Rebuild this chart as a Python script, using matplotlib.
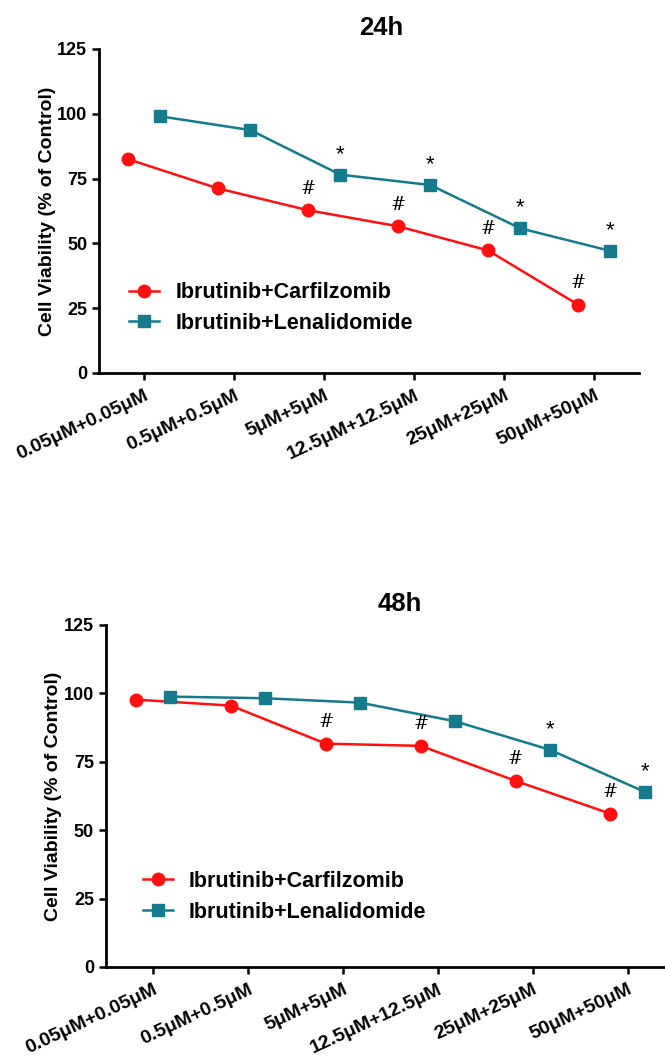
import numpy as np
import matplotlib
matplotlib.use('Agg')
import matplotlib.pyplot as plt

plt.rcParams['font.family'] = ['Liberation Sans', 'DejaVu Sans']
plt.rcParams['font.weight'] = 'bold'

DOSES = ['0.05μM+0.05μM', '0.5μM+0.5μM', '5μM+5μM',
         '12.5μM+12.5μM', '25μM+25μM', '50μM+50μM']
SERIES_NAMES = ['Ibrutinib+Carfilzomib', 'Ibrutinib+Lenalidomide']

# 24h
carf_24 = [82.5, 71.2, 62.8, 56.6, 47.3, 26.4]
lena_24 = [99.0, 93.7, 76.5, 72.5, 55.8, 47.1]
carf_24_sig = [2, 3, 4, 5]
lena_24_sig = [2, 3, 4, 5]

# 48h
carf_48 = [97.7, 95.5, 81.6, 80.8, 68.0, 56.0]
lena_48 = [98.8, 98.2, 96.6, 89.8, 79.4, 64.0]
carf_48_sig = [2, 3, 4, 5]
lena_48_sig = [4, 5]

RED = '#ff1010'
TEAL = '#147a8c'
OFFSET = 0.18


def draw_panel(ax, title, carf, lena, carf_sig, lena_sig, title_x, leg_anchor):
    x = np.arange(len(DOSES))
    xr = x - OFFSET
    xt = x + OFFSET
    ax.plot(xr, carf, color=RED, marker='o', markersize=9, lw=1.8,
            label=SERIES_NAMES[0], clip_on=False, zorder=3)
    ax.plot(xt, lena, color=TEAL, marker='s', markersize=8.5, lw=1.8,
            label=SERIES_NAMES[1], clip_on=False, zorder=3)
    for i in carf_sig:
        ax.annotate('#', (xr[i], carf[i]), xytext=(0, 9), textcoords='offset points',
                    ha='center', va='bottom', fontsize=13, fontweight='normal',
                    family='DejaVu Serif')
    for i in lena_sig:
        ax.annotate('*', (xt[i], lena[i]), xytext=(0, 7), textcoords='offset points',
                    ha='center', va='bottom', fontsize=16, fontweight='normal')

    ax.set_xlim(-0.5, 5.5)
    ax.set_ylim(0, 125)
    ax.set_yticks([0, 25, 50, 75, 100, 125])
    ax.set_xticks(x)
    ax.set_xticklabels(DOSES, rotation=25, ha='right', rotation_mode='anchor')
    ax.tick_params(axis='both', labelsize=13, width=1.8, length=5, direction='out')
    ax.tick_params(axis='x', labelsize=14, pad=5)
    for lab in ax.get_xticklabels() + ax.get_yticklabels():
        lab.set_fontweight('bold')
    ax.spines['top'].set_visible(False)
    ax.spines['right'].set_visible(False)
    ax.spines['left'].set_linewidth(2)
    ax.spines['bottom'].set_linewidth(2)
    ax.set_ylabel('Cell Viability (% of Control)', fontsize=14, fontweight='bold', labelpad=1)
    ax.legend(loc='center left', bbox_to_anchor=leg_anchor, frameon=False,
              prop={'size': 15.5, 'weight': 'bold'}, handlelength=1.4,
              handletextpad=0.75, labelspacing=0.45, borderpad=0, borderaxespad=0)
    fig = ax.figure
    pos = ax.get_position()
    fig.text(title_x, pos.y1 + 0.02, title, ha='center', va='center',
             fontsize=18.5, fontweight='bold')


fig = plt.figure(figsize=(6.65, 10.59), dpi=100)
ax1 = fig.add_axes([0.149, 0.6478, 0.812, 0.306])
ax2 = fig.add_axes([0.159, 0.0869, 0.856, 0.323])

draw_panel(ax1, '24h', carf_24, lena_24, carf_24_sig, lena_24_sig, 381 / 665, (0.056, 0.20))
draw_panel(ax2, '48h', carf_48, lena_48, carf_48_sig, lena_48_sig, 400 / 665, (0.065, 0.205))

fig.savefig('out.png', dpi=100)
